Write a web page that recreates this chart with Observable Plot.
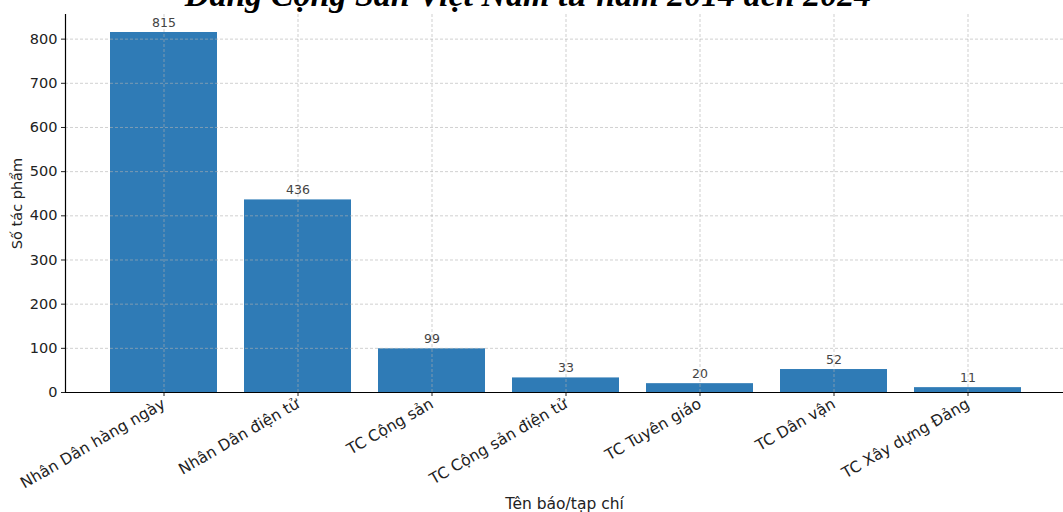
<!DOCTYPE html>
<html>
<head>
<meta charset="utf-8">
<script src="https://cdn.jsdelivr.net/npm/d3@7"></script>
<script src="https://cdn.jsdelivr.net/npm/@observablehq/plot@0.6"></script>
<style>
  html, body { margin: 0; padding: 0; background: #fff; }
  #wrap { position: relative; width: 1063px; height: 512px; overflow: hidden; background: #fff; }
  #title { position: absolute; left: 0; top: 0; }
  #chart { position: absolute; left: 0; top: 0; }
</style>
</head>
<body>
<div id="wrap">
  <div id="chart"></div>
  <svg id="title" width="1063" height="30"></svg>
</div>
<script>
const titleText = "Đảng Cộng Sản Việt Nam từ năm 2014 đến 2024";
const categories = ["Nhân Dân hàng ngày", "Nhân Dân điện tử", "TC Cộng sản", "TC Cộng sản điện tử", "TC Tuyên giáo", "TC Dân vận", "TC Xây dựng Đảng"];
const values = [815, 436, 99, 33, 20, 52, 11];
const yTicks = [0, 100, 200, 300, 400, 500, 600, 700, 800];
const xLabel = "Tên báo/tạp chí";
const yLabel = "Số tác phẩm";

const data = categories.map((c, i) => ({name: c, value: values[i]}));
const yMax = d3.max(values) * 1.05;

const gridStyle = {stroke: "#b0b0b0", strokeOpacity: 0.75, strokeDasharray: "3,2", strokeWidth: 0.8};

const chart = Plot.plot({
  width: 1063,
  height: 512,
  marginTop: 14,
  marginBottom: 120,
  marginLeft: 65,
  marginRight: 0,
  style: {fontFamily: "DejaVu Sans", fontSize: "14.5px", color: "#222", background: "transparent"},
  x: {domain: categories, range: [65, 1066], paddingInner: 0.2, paddingOuter: 0.335},
  y: {domain: [0, yMax]},
  marks: [
    Plot.barY(data, {x: "name", y: "value", fill: "#2f7bb6"}),
    Plot.gridY(yTicks, gridStyle),
    Plot.gridX(categories, gridStyle),
    Plot.text(data, {x: "name", y: "value", text: d => String(d.value), lineAnchor: "bottom", dy: -6, fill: "#444", fontSize: 12.5}),
    Plot.axisY(yTicks, {tickSize: 4, tickPadding: 4, label: yLabel, labelAnchor: "center", labelArrow: "none", labelOffset: 54, fontSize: 14.5}),
    Plot.axisX({tickRotate: -30, tickSize: 4, tickPadding: 6, label: xLabel, labelAnchor: "center", labelArrow: "none", labelOffset: 116, fontSize: 15.5}),
    Plot.ruleY([0], {stroke: "#000", strokeWidth: 1.2}),
    Plot.frame({anchor: "left", stroke: "#000", strokeWidth: 1.2})
  ]
});
document.getElementById("chart").appendChild(chart);

const t = d3.select("#title");
t.append("text")
  .attr("x", 528).attr("y", 6)
  .attr("text-anchor", "middle")
  .attr("font-family", "Liberation Serif")
  .attr("font-weight", "bold")
  .attr("font-style", "italic")
  .attr("font-size", 34)
  .attr("fill", "#000")
  .text(titleText);
</script>
</body>
</html>
